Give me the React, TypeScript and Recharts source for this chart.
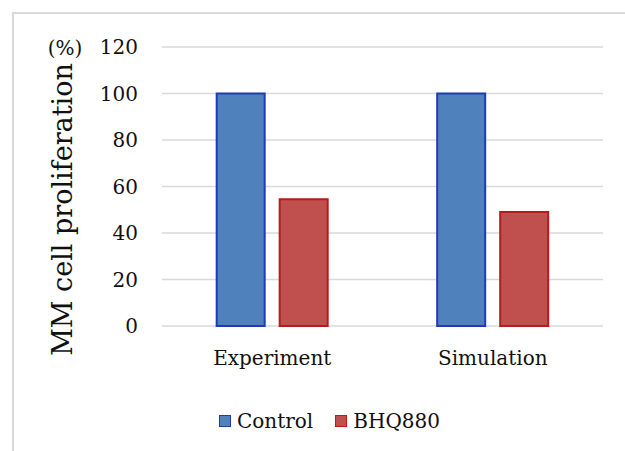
import React from "react";
import { BarChart, Bar, XAxis, YAxis, CartesianGrid, Label } from "recharts";

const categories = ["Experiment", "Simulation"];
const controlValues = [100, 100];
const bhq880Values = [54.5, 49];
const yTicks = [0, 20, 40, 60, 80, 100, 120];

const chartData = categories.map((name, i) => ({
  name,
  control: controlValues[i],
  bhq880: bhq880Values[i],
}));

const FONT = "'DejaVu Serif', serif";

const series = [
  { key: "control", label: "Control", fill: "#4f81bd", stroke: "#1f3cb4" },
  { key: "bhq880", label: "BHQ880", fill: "#c0504d", stroke: "#b51c1c" },
];

// rotated axis title plus the "(%)" unit next to the top tick
function AxisTitle(props: any) {
  const { viewBox } = props;
  const cx = viewBox.x - 20;
  const cy = viewBox.y + viewBox.height / 2 + 23;
  return (
    <g>
      <text
        x={cx}
        y={cy}
        transform={`rotate(-90 ${cx} ${cy})`}
        textAnchor="middle"
        dominantBaseline="central"
        fontFamily={FONT}
        fontSize={27}
        fill="#111"
      >
        MM cell proliferation
      </text>
      <text
        x={viewBox.x - 17}
        y={viewBox.y + 1}
        textAnchor="middle"
        dominantBaseline="central"
        fontFamily={FONT}
        fontSize={20}
        fill="#111"
      >
        (%)
      </text>
    </g>
  );
}

export default function App() {
  return (
    <div
      style={{
        position: "absolute",
        left: 0,
        top: 0,
        width: 625,
        height: 451,
        background: "#fff",
        overflow: "hidden",
      }}
    >
      <div
        style={{
          position: "absolute",
          left: 12,
          top: 12,
          width: 640,
          height: 460,
          borderTop: "2px solid #d9d9d9",
          borderLeft: "2px solid #d9d9d9",
        }}
      />
      <BarChart
        width={625}
        height={451}
        data={chartData}
        margin={{ top: 47, right: 22, bottom: 95, left: 82 }}
        barCategoryGap="24.8%"
        barGap={15}
      >
        <CartesianGrid vertical={false} stroke="#d9d9d9" strokeWidth={1.5} />
        <XAxis
          dataKey="name"
          axisLine={false}
          tickLine={false}
          tickSize={0}
          tickMargin={25}
          height={30}
          tick={{ fontFamily: FONT, fontSize: 20, fill: "#111" }}
        />
        <YAxis
          domain={[0, 120]}
          ticks={yTicks}
          axisLine={false}
          tickLine={false}
          tickSize={0}
          tickMargin={24}
          width={80}
          tick={{ fontFamily: FONT, fontSize: 20, fill: "#111" }}
        >
          <Label content={<AxisTitle />} />
        </YAxis>
        {series.map((s) => (
          <Bar
            key={s.key}
            dataKey={s.key}
            fill={s.fill}
            stroke={s.stroke}
            strokeWidth={2}
            isAnimationActive={false}
          />
        ))}
      </BarChart>
      <div
        style={{
          position: "absolute",
          left: 219,
          top: 409,
          display: "flex",
          alignItems: "center",
          fontFamily: FONT,
          fontSize: 20,
          color: "#111",
        }}
      >
        {series.map((s, i) => (
          <div
            key={s.key}
            style={{ display: "flex", alignItems: "center", marginRight: i === 0 ? 22 : 0 }}
          >
            <span
              style={{
                display: "inline-block",
                width: 10,
                height: 10,
                background: s.fill,
                border: `1.5px solid ${s.stroke}`,
                marginRight: 6,
              }}
            />
            <span>{s.label}</span>
          </div>
        ))}
      </div>
    </div>
  );
}
